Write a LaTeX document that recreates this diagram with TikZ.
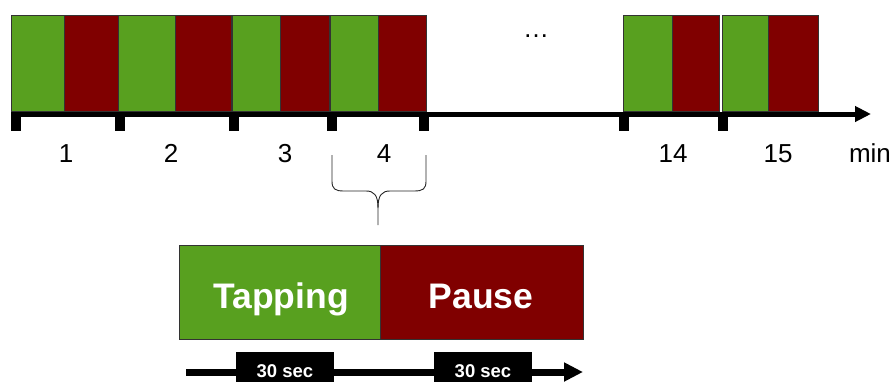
\documentclass[tikz,border=0pt]{standalone}
\usepackage{fontspec}
\setmainfont{Liberation Sans}
\usetikzlibrary{arrows.meta}
\definecolor{tgreen}{HTML}{58A01F}
\definecolor{tred}{HTML}{800000}
\tikzset{
  box/.style={rectangle, inner sep=0pt, outer sep=0pt, draw=black!80, line width=0.6pt, minimum height=96pt, anchor=north west},
  gbox/.style={box, fill=tgreen},
  rbox/.style={box, fill=tred},
  tick/.style={rectangle, fill=black, inner sep=0pt, outer sep=0pt, minimum width=10pt, minimum height=15pt, anchor=north west},
  numlbl/.style={anchor=base, inner sep=0pt, font=\fontsize{26}{30}\selectfont},
  bigbox/.style={rectangle, inner sep=0pt, outer sep=0pt, draw=black!80, line width=0.6pt, minimum height=94pt, anchor=north west},
  biglbl/.style={anchor=base, inner sep=0pt, text=white, font=\fontsize{35.5}{40}\selectfont\bfseries},
  secbox/.style={rectangle, fill=black, inner sep=0pt, outer sep=0pt, minimum width=98pt, minimum height=40pt, anchor=north west},
  seclbl/.style={anchor=base, inner sep=0pt, text=white, font=\fontsize{18.5}{22}\selectfont\bfseries},
}
\begin{document}
\begin{tikzpicture}[x=1pt, y=-1pt]
\useasboundingbox (0,0) rectangle (893,381);
% top blocks
\foreach \n/\a/\b/\c in {1/11/64/118, 2/118/175/231, 3/232/280/329, 4/330/378/426, 14/623/672/719, 15/722/768/818}{
  \pgfmathsetmacro\wa{\b-\a}
  \pgfmathsetmacro\wb{\c-\b}
  \node[gbox, minimum width=\wa pt] (g\n) at (\a,15) {};
  \node[rbox, minimum width=\wb pt] (r\n) at (\b,15) {};
}
% axis
\coordinate (axs) at (11,114);
\coordinate (axe) at (871,114);
\draw[line width=5pt, -{Triangle[length=16pt, width=15pt]}] (axs) -- (axe);
% ticks
\foreach \x [count=\k] in {11,115,229,327,419,619,718}{
  \node[tick] (t\k) at (\x,116) {};
}
% labels
\node[numlbl] (l1) at (66,162) {1};
\node[numlbl] (l2) at (171,162) {2};
\node[numlbl] (l3) at (285,162) {3};
\node[numlbl] (l4) at (384,162) {4};
\node[numlbl] (l14) at (673,162) {14};
\node[numlbl] (l15) at (778,162) {15};
\node[numlbl] (lmin) at (870,162) {min};
\node[numlbl] (dots) at (536,37) {…};
% brace
\draw[line width=0.9pt, black!85]
  (332,155) -- (332,181) .. controls (332,189) and (335,191) .. (344,191)
  -- (366,191) .. controls (374,191) and (378,195) .. (378,208) -- (378,225);
\draw[line width=0.9pt, black!85]
  (426,155) -- (426,181) .. controls (426,189) and (423,191) .. (414,191)
  -- (390,191) .. controls (382,191) and (378,195) .. (378,208);
% bottom boxes
\node[bigbox, fill=tgreen, minimum width=201pt] (tap) at (179,245) {};
\node[bigbox, fill=tred, minimum width=203pt] (pau) at (380,245) {};
\node[biglbl] (taplbl) at (281,308) {Tapping};
\node[biglbl] (paulbl) at (481,308) {Pause};
% bottom arrow
\coordinate (bas) at (186,372);
\coordinate (bae) at (583,372);
\draw[line width=7pt, -{Triangle[length=19pt, width=18pt]}] (bas) -- (bae);
\node[secbox] (s1) at (236,352) {};
\node[secbox] (s2) at (434,352) {};
\node[seclbl] (s1l) at (285,377) {30 sec};
\node[seclbl] (s2l) at (483,377) {30 sec};
\end{tikzpicture}
\end{document}
